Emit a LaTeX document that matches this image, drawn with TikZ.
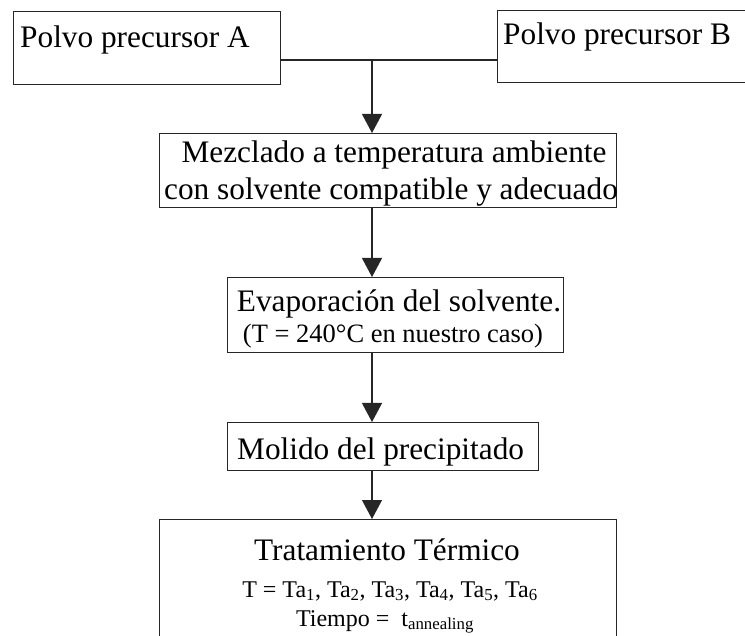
\documentclass[tikz,border=0pt]{standalone}
\usepackage{fontspec}
\setmainfont{Liberation Serif}
\usetikzlibrary{arrows.meta}
\begin{document}
\begin{tikzpicture}[x=1pt,y=-1pt,
  box/.style={draw=black!85, line width=1.4pt, rectangle, inner sep=0pt, anchor=north west},
  big/.style={font=\fontsize{31.3}{36}\selectfont, inner sep=0pt},
  mid/.style={font=\fontsize{26.5}{30}\selectfont, inner sep=0pt},
  sml/.style={font=\fontsize{24}{28}\selectfont, inner sep=0pt},
  link/.style={draw=black!85, line width=1.2pt},
  arr/.style={link, -{Triangle[width=20pt,length=19pt]}}]
\useasboundingbox (0,0) rectangle (745,636);
\clip (0,0) rectangle (745,636);
% boxes
\node[box, minimum width=267pt, minimum height=73pt] (A) at (13,11) {};
\node[box, minimum width=270pt, minimum height=72pt] (B) at (497,10) {};
\node[box, minimum width=457pt, minimum height=74pt] (M) at (159,133) {};
\node[box, minimum width=336pt, minimum height=75pt] (E) at (227,277) {};
\node[box, minimum width=311pt, minimum height=48pt] (P) at (227,422) {};
\node[box, minimum width=457pt, minimum height=140pt] (T) at (159,519) {};
% texts
\node[big, anchor=base west] (tA) at (20,48) {Polvo precursor A};
\node[big, anchor=base west] (tB) at (503,45) {Polvo precursor B};
\node[big, anchor=base] (tM1) at (394,163) {Mezclado a temperatura ambiente};
\node[big, anchor=base] (tM2) at (391,200) {con solvente compatible y adecuado};
\node[big, anchor=base] (tE1) at (399,312) {Evaporación del solvente.};
\node[mid, anchor=base] (tE2) at (393,343) {(T = 240°C en nuestro caso)};
\node[big, anchor=base west] (tP) at (237,460) {Molido del precipitado};
\node[big, anchor=base] (tT1) at (387,560) {Tratamiento Térmico};
\node[sml, anchor=base] (tT2) at (390,597) {T = Ta\textsubscript{1}, Ta\textsubscript{2}, Ta\textsubscript{3}, Ta\textsubscript{4}, Ta\textsubscript{5}, Ta\textsubscript{6}};
\node[sml, anchor=base] (tT3) at (385,626) {Tiempo =\ \ t\textsubscript{annealing}};
% connectors
\coordinate (j) at (372,60);
\draw[link] (A.east |- j) -- (B.west |- j);
\draw[arr] (j) -- (j |- M.north);
\draw[arr] (j |- M.south) -- (j |- E.north);
\draw[arr] (j |- E.south) -- (j |- P.north);
\draw[arr] (j |- P.south) -- (j |- T.north);
\end{tikzpicture}
\end{document}
